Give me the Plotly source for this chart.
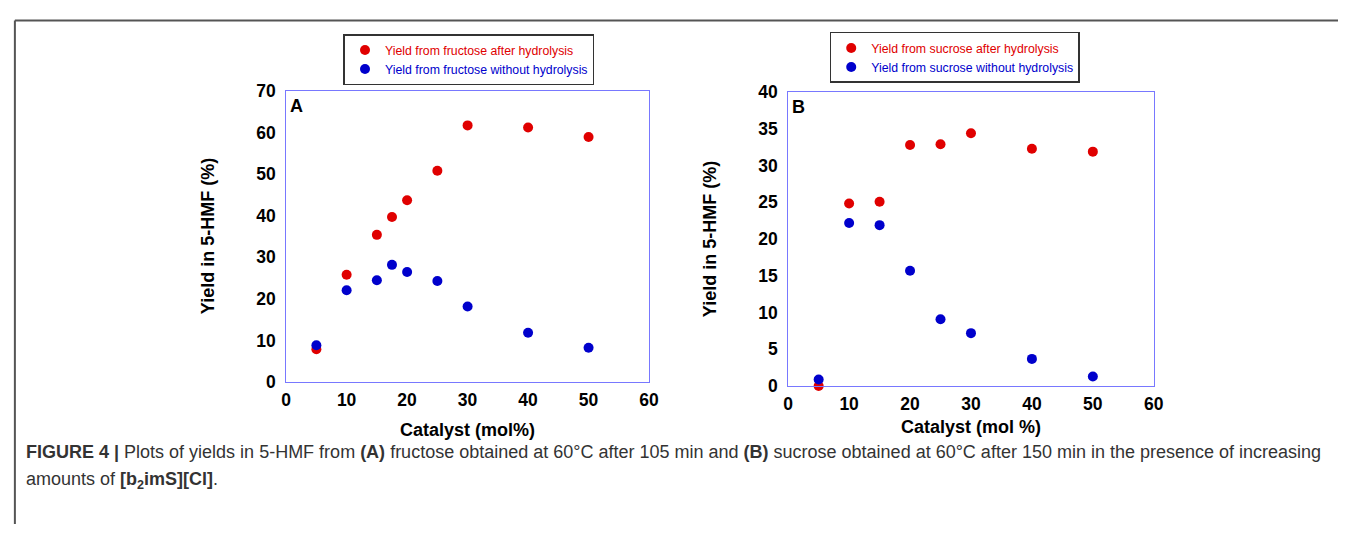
import plotly.graph_objects as go

W, H = 1348, 534

catalyst_a = [5, 10, 15, 17.5, 20, 25, 30, 40, 50]
fructose_after = [7.9, 25.8, 35.4, 39.7, 43.7, 50.8, 61.7, 61.2, 58.9]
fructose_without = [8.9, 22.1, 24.5, 28.2, 26.5, 24.3, 18.2, 11.9, 8.3]

catalyst_b = [5, 10, 15, 20, 25, 30, 40, 50]
sucrose_after = [0.0, 24.85, 25.07, 32.8, 32.9, 34.4, 32.3, 31.9]
sucrose_without = [0.9, 22.2, 21.9, 15.7, 9.1, 7.2, 3.7, 1.3]

x_ticks = [0, 10, 20, 30, 40, 50, 60]
y_ticks_a = [0, 10, 20, 30, 40, 50, 60, 70]
y_ticks_b = [0, 5, 10, 15, 20, 25, 30, 35, 40]

RED = "#e00000"
BLUE = "#0000cc"
FONT = "Liberation Sans, Arial, sans-serif"


def px(x):
    return x / W


def py(y):
    return 1 - y / H


fig = go.Figure()

mk = dict(size=10, line=dict(width=0))
fig.add_trace(go.Scatter(x=catalyst_a, y=fructose_after, mode="markers",
                         marker=dict(color=RED, **mk), xaxis="x", yaxis="y",
                         name='<span style="color:#e00000">Yield from fructose after hydrolysis</span>',
                         legend="legend", cliponaxis=False))
fig.add_trace(go.Scatter(x=catalyst_a, y=fructose_without, mode="markers",
                         marker=dict(color=BLUE, **mk), xaxis="x", yaxis="y",
                         name='<span style="color:#0000cc">Yield from fructose without hydrolysis</span>',
                         legend="legend", cliponaxis=False))
fig.add_trace(go.Scatter(x=catalyst_b, y=sucrose_after, mode="markers",
                         marker=dict(color=RED, **mk), xaxis="x2", yaxis="y2",
                         name='<span style="color:#e00000">Yield from sucrose after hydrolysis</span>',
                         legend="legend2", cliponaxis=False))
fig.add_trace(go.Scatter(x=catalyst_b, y=sucrose_without, mode="markers",
                         marker=dict(color=BLUE, **mk), xaxis="x2", yaxis="y2",
                         name='<span style="color:#0000cc">Yield from sucrose without hydrolysis</span>',
                         legend="legend2", cliponaxis=False))

tickfont = dict(family=FONT, size=17.5, color="black", weight="bold")
axis_common = dict(showgrid=False, zeroline=False, showline=True, linecolor="#7878ff",
                   linewidth=1, mirror=True, ticks="", tickfont=tickfont, fixedrange=True)

dom_a = [px(284.3), px(651.3)]
dom_b = [px(792), px(1161.7)]
ydom_a = [py(386.7), py(84)]
ydom_b = [py(390.7), py(85.3)]

leg_common = dict(xanchor="left", yanchor="middle", bordercolor="#333333", borderwidth=1.5,
                  bgcolor="white", font=dict(family=FONT, size=12.3), tracegroupgap=0,
                  itemclick=False, itemdoubleclick=False)

fig.update_layout(
    width=W, height=H,
    margin=dict(l=0, r=0, t=0, b=0),
    paper_bgcolor="white", plot_bgcolor="white",
    font=dict(family=FONT),
    showlegend=True,
    xaxis=dict(domain=dom_a, range=[0, 60], tickvals=x_ticks, anchor="y",
               ticklabelstandoff=2, **axis_common),
    yaxis=dict(domain=ydom_a, range=[0, 70], tickvals=y_ticks_a, anchor="x",
               ticklabelstandoff=6, **axis_common),
    xaxis2=dict(domain=dom_b, range=[0, 60], tickvals=x_ticks, anchor="y2",
                ticklabelstandoff=2, **axis_common),
    yaxis2=dict(domain=ydom_b, range=[0, 40], tickvals=y_ticks_b, anchor="x2",
                ticklabelstandoff=6, **axis_common),
    legend=dict(x=px(342.3), y=py(51.5), **leg_common),
    legend2=dict(x=px(834), y=py(49.3), **leg_common),
)

title_font = dict(family=FONT, size=18, color="black", weight="bold")
annots = [
    dict(text="Yield in 5-HMF (%)", x=px(206), y=py(235.3), textangle=-90),
    dict(text="Yield in 5-HMF (%)", x=px(713), y=py(238), textangle=-90),
    dict(text="Catalyst (mol%)", x=px(467.8), y=py(436)),
    dict(text="Catalyst (mol %)", x=px(977), y=py(433)),
]
for a in annots:
    fig.add_annotation(xref="paper", yref="paper", xanchor="center", yanchor="middle",
                       showarrow=False, font=title_font, **a)

fig.add_annotation(text="A", xref="x domain", yref="y domain", x=0.004, y=0.99,
                   xanchor="left", yanchor="top", showarrow=False,
                   font=dict(family=FONT, size=18, color="black", weight="bold"))
fig.add_annotation(text="B", xref="x2 domain", yref="y2 domain", x=0.004, y=0.99,
                   xanchor="left", yanchor="top", showarrow=False,
                   font=dict(family=FONT, size=18, color="black", weight="bold"))

cap_font = dict(family=FONT, size=18, color="#333333")
fig.add_annotation(
    text="<b>FIGURE 4 |</b> Plots of yields in 5-HMF from <b>(A)</b> fructose obtained at 60°C after 105 min "
         "and <b>(B)</b> sucrose obtained at 60°C after 150 min in the presence of increasing",
    xref="paper", yref="paper", x=px(19), y=py(459), xanchor="left", yanchor="middle",
    showarrow=False, font=cap_font, align="left")
fig.add_annotation(
    text="amounts of <b>[b<sub>2</sub>imS][Cl]</b>.",
    xref="paper", yref="paper", x=px(19), y=py(489), xanchor="left", yanchor="middle",
    showarrow=False, font=cap_font, align="left")

frame = dict(color="#555555", width=2)
fig.add_shape(type="line", xref="paper", yref="paper", x0=px(10), x1=1, y0=py(11), y1=py(11), line=frame)
fig.add_shape(type="line", xref="paper", yref="paper", x0=px(10), x1=px(10), y0=py(11), y1=0, line=frame)

fig.write_html("out.html", config={"displayModeBar": False},
               post_script="document.body.style.margin='0';document.body.style.overflow='hidden';")
